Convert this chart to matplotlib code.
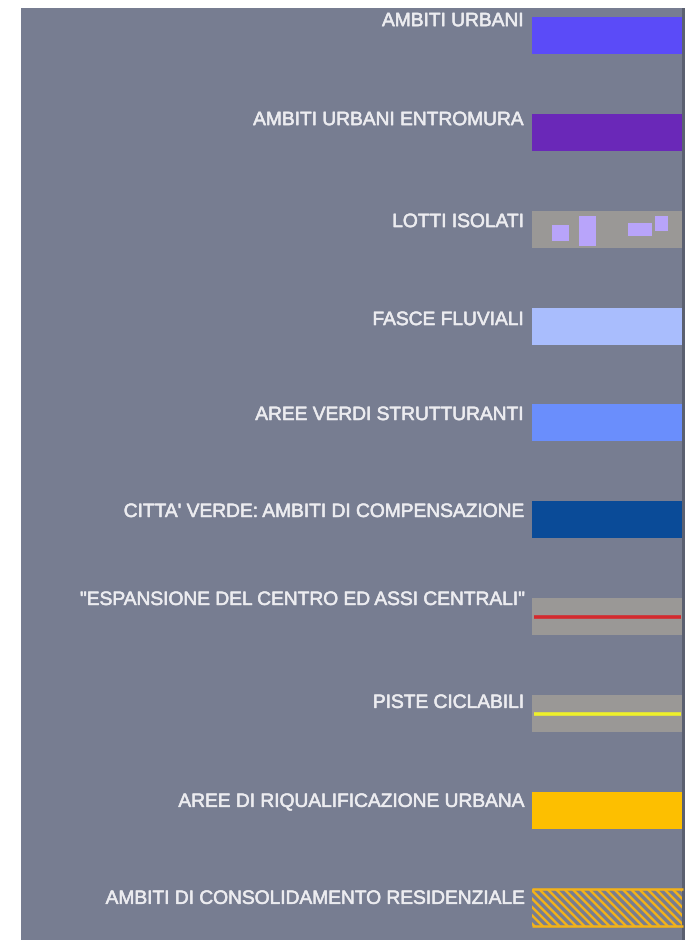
import matplotlib
matplotlib.use("Agg")
import matplotlib.pyplot as plt
from matplotlib.patches import Rectangle
import matplotlib.patheffects as pe

# ---- data ----
labels = [
    "AMBITI URBANI",
    "AMBITI URBANI ENTROMURA",
    "LOTTI ISOLATI",
    "FASCE FLUVIALI",
    "AREE VERDI STRUTTURANTI",
    "CITTA' VERDE: AMBITI DI COMPENSAZIONE",
    "\"ESPANSIONE DEL CENTRO ED ASSI CENTRALI\"",
    "PISTE CICLABILI",
    "AREE DI RIQUALIFICAZIONE URBANA",
    "AMBITI DI CONSOLIDAMENTO RESIDENZIALE",
]
kinds = ["fill", "fill", "lots", "fill", "fill", "fill", "line", "line", "fill", "hatch"]
colors = ["#5b4bf8", "#6a28b8", "#b8a4fa", "#a9bdfd", "#6a8efc", "#0a4b98",
          "#d42a2e", "#eef02a", "#fdbf00", "#f2b21a"]

# ---- style / layout ----
BG = "#777d91"
GRAY = "#9a9896"
TEXT = "#ececf0"
row_top0, row_step, sw_h = 16.6, 96.97, 37
sw_x0, sw_x1 = 532, 682
text_x = 523.5
label_dy = [5, 7, 12, 13, 11, 11, 2, 8, 10, 10]
# lot rectangles relative to swatch (x-frac, y-frac, w-frac, h-frac)
lots = [(0.133, 0.40, 0.113, 0.43), (0.313, 0.14, 0.113, 0.81),
        (0.64, 0.35, 0.16, 0.33), (0.82, 0.16, 0.087, 0.38)]

plt.rcParams["hatch.linewidth"] = 1.8

fig = plt.figure(figsize=(6.88, 9.40), dpi=100)
ax = fig.add_axes([0, 0, 1, 1])
ax.set_xlim(0, 688)
ax.set_ylim(940, 0)
ax.axis("off")

ax.add_patch(Rectangle((21, 8), 662, 932, facecolor=BG, edgecolor="none"))
ax.add_patch(Rectangle((682, 8), 2.5, 932, facecolor="#5b6070", edgecolor="none"))

for i, (lab, kind, col) in enumerate(zip(labels, kinds, colors)):
    top = row_top0 + i * row_step
    w = sw_x1 - sw_x0
    if kind == "fill":
        ax.add_patch(Rectangle((sw_x0, top), w, sw_h, facecolor=col, edgecolor="none"))
    elif kind == "lots":
        ax.add_patch(Rectangle((sw_x0, top), w, sw_h, facecolor=GRAY, edgecolor="none"))
        for fx, fy, fw, fh in lots:
            ax.add_patch(Rectangle((sw_x0 + fx * w, top + fy * sw_h), fw * w, fh * sw_h,
                                   facecolor=col, edgecolor="none"))
    elif kind == "line":
        ax.add_patch(Rectangle((sw_x0, top), w, sw_h, facecolor=GRAY, edgecolor="none"))
        ax.plot([sw_x0 + 2, sw_x1 - 1], [top + sw_h * 0.5, top + sw_h * 0.5],
                color=col, lw=2.6, solid_capstyle="butt")
    elif kind == "hatch":
        ax.add_patch(Rectangle((sw_x0, top), w, sw_h, facecolor="none", edgecolor=col,
                               lw=0, hatch="\\\\\\\\"))
        for yy in (top, top + sw_h):
            ax.plot([sw_x0, sw_x1 + 1], [yy, yy], color=col, lw=1.8, solid_capstyle="butt")
    ax.text(text_x, top + label_dy[i], lab, ha="right", va="center", color=TEXT,
            fontsize=13.8, family=["Liberation Sans", "DejaVu Sans"],
            path_effects=[pe.withStroke(linewidth=0.4, foreground=TEXT)])

fig.savefig("out.png", dpi=100, facecolor="white")
